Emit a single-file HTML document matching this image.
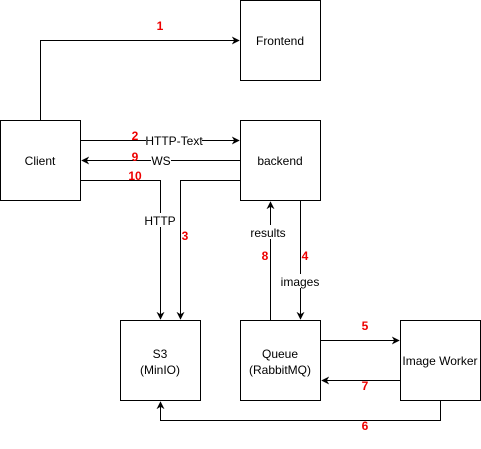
<!DOCTYPE html>
<html><head><style>body{margin:0;background:#fff}svg{display:block}</style></head><body>
<svg width="481" height="449" viewBox="0 0 481 449" xmlns="http://www.w3.org/2000/svg" font-family="Liberation Sans, sans-serif">
<defs><marker id="a" viewBox="0 0 10 10" refX="9" refY="5" markerWidth="8" markerHeight="8" orient="auto-start-reverse" markerUnits="userSpaceOnUse"><path d="M0,0 L10,5 L0,10 L3,5 z" fill="#000"/></marker></defs>
<g fill="#fff" stroke="#000" stroke-width="1">
<rect x="240.5" y="0.5" width="80" height="80"/>
<rect x="0.5" y="120.5" width="80" height="80"/>
<rect x="240.5" y="120.5" width="80" height="80"/>
<rect x="120.5" y="320.5" width="80" height="80"/>
<rect x="240.5" y="320.5" width="80" height="80"/>
<rect x="400.5" y="320.5" width="80" height="80"/>
</g>
<g fill="none" stroke="#000" stroke-width="1" marker-end="url(#a)">
<path d="M40.5,120 V40.5 H239"/>
<path d="M81,140.5 H239"/>
<path d="M240,160.5 H82"/>
<path d="M81,180.5 H160.5 V319"/>
<path d="M240,180.5 H180.5 V319"/>
<path d="M270.5,320 V202"/>
<path d="M300.5,201 V319"/>
<path d="M321,340.5 H399"/>
<path d="M400,380.5 H322"/>
<path d="M440.5,401 V420.5 H160.5 V402"/>
</g>
<g font-size="12" text-anchor="middle" fill="#000">
<rect x="146" y="133" width="56" height="14" fill="#fff"/>
<text x="174" y="145">HTTP-Text</text>
<rect x="151" y="153" width="20" height="14" fill="#fff"/>
<text x="161" y="165">WS</text>
<rect x="143" y="213" width="34" height="14" fill="#fff"/>
<text x="160" y="225">HTTP</text>
<rect x="250" y="225" width="36" height="14" fill="#fff"/>
<text x="268" y="237">results</text>
<rect x="281" y="274" width="38" height="14" fill="#fff"/>
<text x="300" y="286">images</text>
<text x="280" y="45">Frontend</text>
<text x="40" y="165">Client</text>
<text x="280" y="165">backend</text>
<text x="160" y="358">S3</text>
<text x="160" y="374">(MinIO)</text>
<text x="280" y="358">Queue</text>
<text x="280" y="374">(RabbitMQ)</text>
<text x="440" y="365">Image Worker</text>
</g>
<g font-size="12" font-weight="bold" fill="#e00" text-anchor="middle">
<text x="160" y="30">1</text>
<text x="135" y="140">2</text>
<text x="135" y="161">9</text>
<text x="135" y="180">10</text>
<text x="185" y="240">3</text>
<text x="265" y="260">8</text>
<text x="305" y="260">4</text>
<text x="365" y="330">5</text>
<text x="365" y="390">7</text>
<text x="365" y="430">6</text>
</g>
</svg>
</body></html>
